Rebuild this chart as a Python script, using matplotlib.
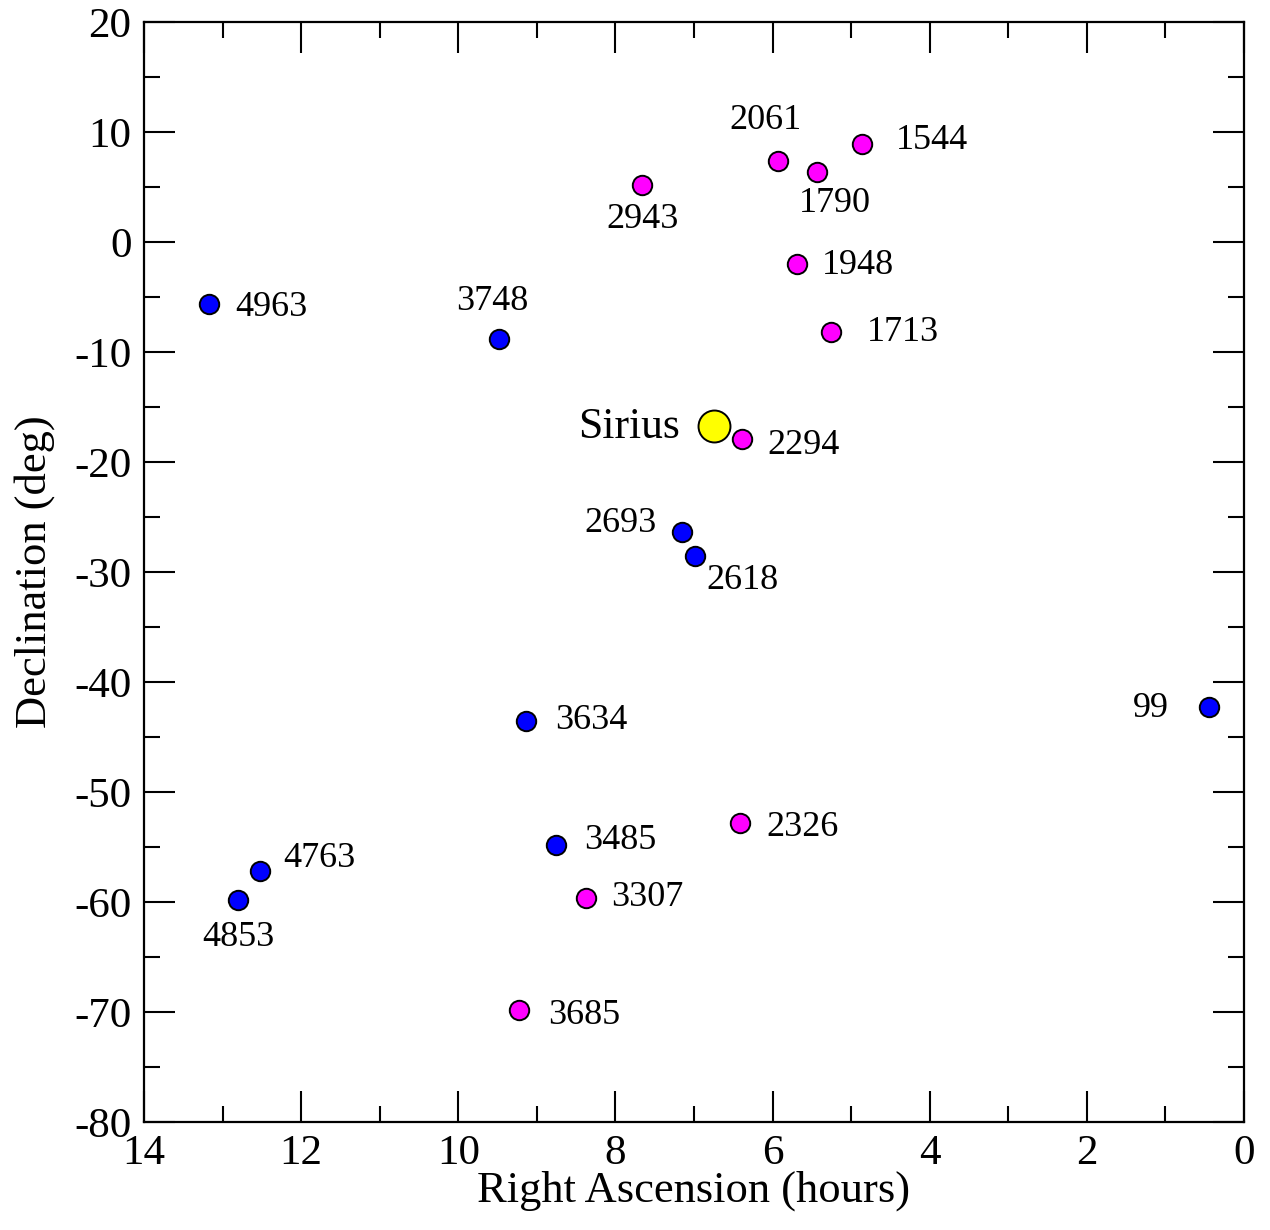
import matplotlib
matplotlib.use("Agg")
import matplotlib.pyplot as plt
from matplotlib.ticker import MultipleLocator

plt.rcParams['font.family'] = ['Liberation Serif', 'DejaVu Serif']
plt.rcParams['axes.unicode_minus'] = False

# Datos: estrellas (HR) con ascension recta (horas) y declinacion (grados)
blue_names = ["4963", "3748", "2693", "2618", "99", "3634", "3485", "4763", "4853"]
blue_ra = [13.17, 9.48, 7.15, 6.99, 0.45, 9.14, 8.76, 12.52, 12.80]
blue_dec = [-5.6, -8.8, -26.4, -28.5, -42.3, -43.5, -54.8, -57.2, -59.8]

pink_names = ["2943", "2061", "1790", "1544", "1948", "1713", "2294", "2326", "3307", "3685"]
pink_ra = [7.66, 5.93, 5.43, 4.86, 5.69, 5.26, 6.39, 6.41, 8.37, 9.23]
pink_dec = [5.2, 7.4, 6.4, 8.9, -2.0, -8.2, -17.9, -52.8, -59.6, -69.8]

sirius_name = "Sirius"
sirius_ra = [6.75]
sirius_dec = [-16.7]

# Posicion de etiquetas (pixeles: dx, dy hacia abajo, alineacion)
label_pos = {
    "4963": (26, 4, "left"), "3748": (-7, -37, "center"), "2693": (-26, -9, "right"),
    "2618": (12, 25, "left"), "99": (-40, 1, "right"), "3634": (29, 0, "left"),
    "3485": (28, -4, "left"), "4763": (23, -13, "left"), "4853": (0, 38, "center"),
    "2943": (0, 35, "center"), "2061": (-13, -40, "center"), "1790": (18, 32, "center"),
    "1544": (34, -4, "left"), "1948": (25, 2, "left"), "1713": (36, 0, "left"),
    "2294": (25, 7, "left"), "2326": (26, 5, "left"), "3307": (25, 0, "left"),
    "3685": (29, 6, "left"),
}

fig = plt.figure(figsize=(12.7, 12.3), dpi=100)
ax = fig.add_axes([144 / 1270, 1 - 1122 / 1230, 1100 / 1270, 1100 / 1230])

ax.plot(sirius_ra, sirius_dec, 'o', color='#ffff00', markeredgecolor='black',
        markersize=23, markeredgewidth=1.4)
ax.plot(blue_ra, blue_dec, 'o', color='#0000ff', markeredgecolor='black',
        markersize=14, markeredgewidth=1.4, linestyle='none')
ax.plot(pink_ra, pink_dec, 'o', color='#ff00ff', markeredgecolor='black',
        markersize=14, markeredgewidth=1.4, linestyle='none')

px = 0.72  # pixeles -> puntos
for names, ras, decs in [(blue_names, blue_ra, blue_dec), (pink_names, pink_ra, pink_dec)]:
    for n, x, y in zip(names, ras, decs):
        dx, dy, ha = label_pos[n]
        ax.annotate(n, (x, y), xytext=(dx * px, -dy * px), textcoords='offset points',
                    ha=ha, va='center', fontsize=26)

ax.annotate(sirius_name, (sirius_ra[0], sirius_dec[0]), xytext=(-34 * px, -1 * px),
            textcoords='offset points', ha='right', va='center', fontsize=31.5)

# Ejes
ax.set_xlim(14, 0)
ax.set_ylim(-80, 20)
ax.xaxis.set_major_locator(MultipleLocator(2))
ax.xaxis.set_minor_locator(MultipleLocator(1))
ax.yaxis.set_major_locator(MultipleLocator(10))
ax.yaxis.set_minor_locator(MultipleLocator(5))
ax.tick_params(which='both', direction='in', top=True, right=True, width=1.5,
               labelsize=31, pad=9)
ax.tick_params(which='major', length=22)
ax.tick_params(which='minor', length=11.5)
for s in ax.spines.values():
    s.set_linewidth(1.6)

ax.set_xlabel("Right Ascension (hours)", fontsize=32, labelpad=-2)
ax.set_ylabel("Declination (deg)", fontsize=32, labelpad=14)

fig.savefig("out.png", dpi=100)
